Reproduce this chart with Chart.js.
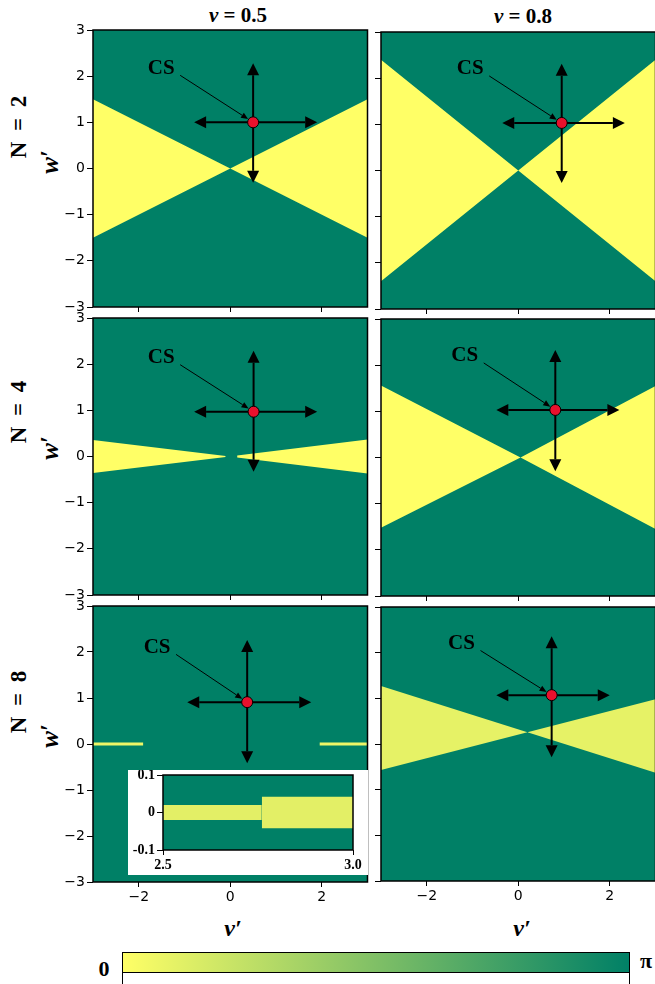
<!DOCTYPE html>
<html>
<head>
<meta charset="utf-8">
<script src="https://cdn.jsdelivr.net/npm/chart.js@4.4.1/dist/chart.umd.min.js"></script>
<style>
  html, body { margin: 0; padding: 0; background: #fff; width: 655px; height: 984px; overflow: hidden; position: relative; }
  canvas { position: absolute; }
  .t { position: absolute; font-family: "Liberation Serif", "DejaVu Serif", serif; font-weight: bold; color: #000; white-space: nowrap; transform: translate(-50%, -50%); }
  .rot { transform: translate(-50%, -50%) rotate(-90deg); }
  .wide { word-spacing: 5px; }
  .it { font-style: italic; }
</style>
</head>
<body>

<div class="t" style="left:238px;top:15px;font-size:21px"><span class="it">ν</span> = 0.5</div>
<div class="t" style="left:523px;top:16px;font-size:21px"><span class="it">ν</span> = 0.8</div>

<div class="t rot wide" style="left:19px;top:127px;font-size:23px">N = 2</div>
<div class="t rot it" style="left:50px;top:162px;font-size:25px">w′</div>
<div class="t rot wide" style="left:19px;top:412px;font-size:23px">N = 4</div>
<div class="t rot it" style="left:50px;top:448px;font-size:25px">w′</div>
<div class="t rot wide" style="left:19px;top:702px;font-size:23px">N = 8</div>
<div class="t rot it" style="left:50px;top:736px;font-size:25px">w′</div>

<div class="t it" style="left:233px;top:928px;font-size:24px">ν′</div>
<div class="t it" style="left:522px;top:928px;font-size:24px">ν′</div>

<!-- colour bar, summer colormap from 0 to pi -->
<div style="position:absolute;left:122px;top:952px;width:506px;height:40px;border:1.5px solid #000;border-bottom:none;background:#fff">
  <div style="height:19px;border-bottom:1.5px solid #000;background:linear-gradient(to right,#ffff66,#008066)"></div>
</div>
<div class="t" style="left:104px;top:969px;font-size:22px">0</div>
<div class="t" style="left:646px;top:961px;font-size:22px">π</div>

<script>
Chart.defaults.animation = false;
Chart.defaults.responsive = false;
Chart.defaults.devicePixelRatio = 1;
Chart.defaults.events = [];
Chart.defaults.plugins.legend.display = false;
Chart.defaults.plugins.tooltip.enabled = false;

const GREEN = "#008066";
const YELLOW = "#ffff66";
const PALE = "#e6f266";

// axis ticks
const xTicks = [-2, 0, 2];
const yTicks = [-3, -2, -1, 0, 1, 2, 3];
const insetXTicks = [2.5, 3.0];
const insetYTicks = [-0.1, 0, 0.1];

// yellow (phase 0) wedges: v' samples with upper / lower w' edges
const bowX = [-3, 0, 3];
const n2v05Top = [1.5, 0, 1.5];
const n2v05Bot = [-1.5, 0, -1.5];
const n2v08Top = [2.4, 0, 2.4];
const n2v08Bot = [-2.4, 0, -2.4];

const n4v05LeftX = [-3, -0.1];
const n4v05LeftTop = [0.36, 0.012];
const n4v05LeftBot = [-0.36, -0.012];
const n4v05RightX = [0.15, 3];
const n4v05RightTop = [0.02, 0.37];
const n4v05RightBot = [-0.02, -0.37];

const n4v08X = [-3, 0.05, 3];
const n4v08Top = [1.56, 0, 1.55];
const n4v08Bot = [-1.52, 0, -1.55];

const n8v05LeftX = [-3, -1.9];
const n8v05RightX = [1.95, 3];
const n8v05Top = [0.03, 0.03];
const n8v05Bot = [-0.03, -0.03];

const n8v08LeftX = [-3, 0.2];
const n8v08LeftTop = [1.27, 0.26];
const n8v08LeftBot = [-0.57, 0.26];
const n8v08RightX = [0.2, 3];
const n8v08RightTop = [0.26, 0.98];
const n8v08RightBot = [0.26, -0.63];

// inset, zoom of N=8, v=0.5 near v' = 2.5..3
const insetLeftX = [2.5, 2.76];
const insetLeftTop = [0.02, 0.02];
const insetLeftBot = [-0.02, -0.02];
const insetRightX = [2.76, 3.0];
const insetRightTop = [0.042, 0.042];
const insetRightBot = [-0.042, -0.042];

// CS point and the arrows round it, one entry per panel
const csV = [0.5, 0.95, 0.51, 0.81, 0.37, 0.73];
const csW = [1.0, 1.03, 0.97, 1.03, 0.91, 1.07];
const armUp = [2.28, 2.31, 2.29, 2.33, 2.26, 2.36];
const armDown = [-0.31, -0.27, -0.33, -0.30, -0.42, -0.29];
const armLeft = [-0.79, -0.35, -0.79, -0.48, -0.94, -0.48];
const armRight = [1.9, 2.33, 1.9, 2.21, 1.77, 2.0];
const labelV = [-1.51, -1.05, -1.51, -1.17, -1.6, -1.24];
const labelW = [2.17, 2.2, 2.14, 2.2, 2.1, 2.2];

const minus = v => String(v).replace("-", "\u2212");

function pts(xs, ys) {
  return xs.map((x, i) => ({ x: x, y: ys[i] }));
}

function wedge(xs, top, bot, color) {
  return [
    { data: pts(xs, top), fill: "+1", backgroundColor: color, borderColor: "rgba(0,0,0,0)", borderWidth: 0, pointRadius: 0 },
    { data: pts(xs, bot), fill: false, borderColor: "rgba(0,0,0,0)", borderWidth: 0, pointRadius: 0 }
  ];
}

function arrow(ctx, x0, y0, x1, y1, lw, hl, hw) {
  const a = Math.atan2(y1 - y0, x1 - x0);
  const bx = x1 - hl * Math.cos(a), by = y1 - hl * Math.sin(a);
  ctx.lineWidth = lw;
  ctx.beginPath();
  ctx.moveTo(x0, y0);
  ctx.lineTo(bx, by);
  ctx.stroke();
  ctx.beginPath();
  ctx.moveTo(x1, y1);
  ctx.lineTo(bx + hw * Math.sin(a), by - hw * Math.cos(a));
  ctx.lineTo(bx - hw * Math.sin(a), by + hw * Math.cos(a));
  ctx.closePath();
  ctx.fill();
}

const background = {
  id: "bg",
  beforeDatasetsDraw(chart) {
    const a = chart.chartArea, c = chart.ctx;
    c.save();
    c.fillStyle = GREEN;
    c.fillRect(a.left, a.top, a.right - a.left, a.bottom - a.top);
    c.restore();
  }
};

const frame = {
  id: "frame",
  afterDraw(chart) {
    const a = chart.chartArea, c = chart.ctx;
    c.save();
    c.strokeStyle = "#000";
    c.lineWidth = 1.5;
    c.strokeRect(a.left, a.top, a.right - a.left, a.bottom - a.top);
    c.restore();
  }
};

// arrows + CS label, drawn just before the red dot (dataset 0)
const csMarks = {
  id: "cs",
  beforeDatasetDraw(chart, args) {
    const k = chart.$panel;
    if (k === undefined || args.index !== 0) return;
    const sx = chart.scales.x, sy = chart.scales.y, c = chart.ctx;
    const px = sx.getPixelForValue(csV[k]), py = sy.getPixelForValue(csW[k]);
    c.save();
    c.strokeStyle = "#000";
    c.fillStyle = "#000";
    arrow(c, px, py, px, sy.getPixelForValue(armUp[k]), 2, 12, 6);
    arrow(c, px, py, px, sy.getPixelForValue(armDown[k]), 2, 12, 6);
    arrow(c, px, py, sx.getPixelForValue(armLeft[k]), py, 2, 12, 6);
    arrow(c, px, py, sx.getPixelForValue(armRight[k]), py, 2, 12, 6);
    const lx = sx.getPixelForValue(labelV[k]), ly = sy.getPixelForValue(labelW[k]);
    c.font = "bold 21px 'Liberation Serif', serif";
    c.textAlign = "center";
    c.textBaseline = "middle";
    c.fillText("CS", lx, ly);
    const a = Math.atan2(py - ly - 7, px - lx - 19);
    arrow(c, lx + 19, ly + 7, px - 6 * Math.cos(a), py - 6 * Math.sin(a), 1, 7, 3);
    c.restore();
  }
};

function scaleX(axH, labels, ticks, font) {
  return {
    type: "linear", min: ticks === insetXTicks ? 2.5 : -3, max: 3,
    afterBuildTicks: s => { s.ticks = ticks.map(v => ({ value: v })); },
    afterFit: s => { s.height = axH; s.paddingLeft = 0; s.paddingRight = 0; },
    grid: { display: true, drawOnChartArea: false, drawTicks: true, tickLength: 5, color: "#000", lineWidth: 1 },
    border: { display: false },
    ticks: { display: labels, color: "#000", font: font, padding: 2, maxRotation: 0, autoSkip: false,
      callback: v => ticks === insetXTicks ? v.toFixed(1) : minus(v) }
  };
}

function scaleY(axW, labels, ticks, font, range) {
  return {
    type: "linear", min: range[0], max: range[1],
    afterBuildTicks: s => { s.ticks = ticks.map(v => ({ value: v })); },
    afterFit: s => { s.width = axW; s.paddingTop = 0; s.paddingBottom = 0; },
    grid: { display: true, drawOnChartArea: false, drawTicks: true, tickLength: 6, color: "#000", lineWidth: 1 },
    border: { display: false },
    ticks: { display: labels, color: "#000", font: font, padding: 2, autoSkip: false,
      callback: v => ticks === insetYTicks ? String(v) : minus(v) }
  };
}

const tickFont = { family: "'DejaVu Sans', sans-serif", size: 14 };
const insetFont = { family: "'Liberation Serif', serif", size: 14, weight: "bold" };

function addChart(area, axW, axH, padT, padR, datasets, scales, panelIndex, bg) {
  const left = area[0] - axW, top = area[2] - padT;
  const w = area[1] - left + padR, h = area[3] + axH - top;
  const cv = document.createElement("canvas");
  cv.width = w; cv.height = h;
  cv.style.left = left + "px"; cv.style.top = top + "px";
  cv.style.width = w + "px"; cv.style.height = h + "px";
  if (bg) cv.style.background = bg;
  document.body.appendChild(cv);
  const chart = new Chart(cv.getContext("2d"), {
    type: "line",
    data: { datasets: datasets },
    options: {
      layout: { padding: { top: padT, right: padR, left: 0, bottom: 0 } },
      scales: scales,
      elements: { line: { tension: 0 } }
    },
    plugins: [background, frame, csMarks]
  });
  chart.$panel = panelIndex;
  chart.draw();
  return chart;
}

function dot(k) {
  return { data: [{ x: csV[k], y: csW[k] }], showLine: false, fill: false, pointRadius: 5.5,
    pointBackgroundColor: "#e8112d", pointBorderColor: "#000", pointBorderWidth: 1 };
}

const panels = [
  { area: [93, 370, 30, 307], left: true, bottom: false, wedges: [wedge(bowX, n2v05Top, n2v05Bot, YELLOW)] },
  { area: [381, 658, 32, 309], left: false, bottom: false, wedges: [wedge(bowX, n2v08Top, n2v08Bot, YELLOW)] },
  { area: [93, 370, 318, 595], left: true, bottom: false, wedges: [wedge(n4v05LeftX, n4v05LeftTop, n4v05LeftBot, YELLOW), wedge(n4v05RightX, n4v05RightTop, n4v05RightBot, YELLOW)] },
  { area: [381, 658, 319, 596], left: false, bottom: false, wedges: [wedge(n4v08X, n4v08Top, n4v08Bot, YELLOW)] },
  { area: [93, 370, 606, 882], left: true, bottom: true, wedges: [wedge(n8v05LeftX, n8v05Top, n8v05Bot, "#eef666"), wedge(n8v05RightX, n8v05Top, n8v05Bot, "#eef666")] },
  { area: [381, 658, 607, 881], left: false, bottom: true, wedges: [wedge(n8v08LeftX, n8v08LeftTop, n8v08LeftBot, PALE), wedge(n8v08RightX, n8v08RightTop, n8v08RightBot, PALE)] }
];

panels.forEach((p, k) => {
  const axW = p.left ? p.area[0] : 10;
  const axH = p.bottom ? 30 : 10;
  const ds = [dot(k)].concat(...p.wedges);
  addChart(p.area, axW, axH, 12, 4, ds, {
    x: scaleX(axH, p.bottom, xTicks, tickFont),
    y: scaleY(axW, p.left, yTicks, tickFont, [-3, 3])
  }, k, null);
});

// inset
const insetDs = [].concat(
  wedge(insetLeftX, insetLeftTop, insetLeftBot, "#e3ef66"),
  wedge(insetRightX, insetRightTop, insetRightBot, "#e3ef66")
);
addChart([163, 353, 775, 850], 35, 25, 5, 15, insetDs, {
  x: scaleX(25, true, insetXTicks, insetFont),
  y: scaleY(35, true, insetYTicks, insetFont, [-0.1, 0.1])
}, undefined, "#fff");
</script>
</body>
</html>
